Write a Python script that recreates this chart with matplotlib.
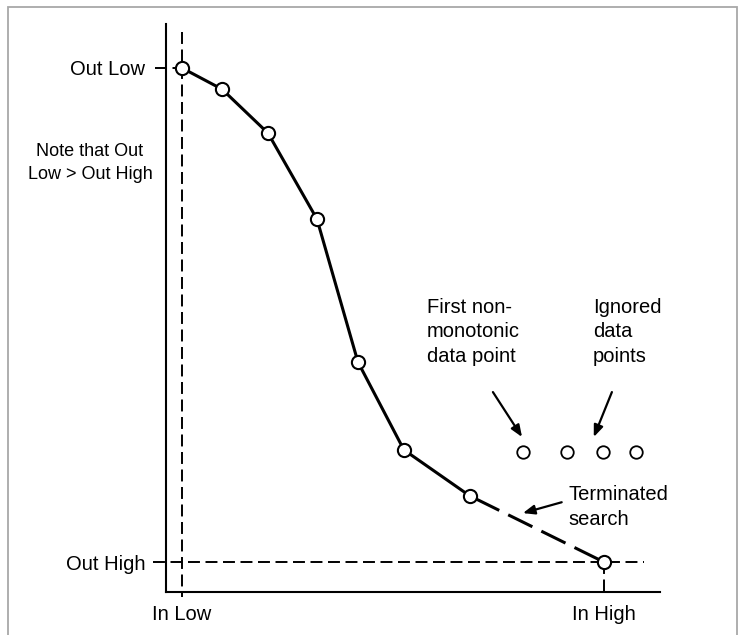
import matplotlib
matplotlib.use("Agg")
import matplotlib.pyplot as plt
from matplotlib.patches import Rectangle

plt.rcParams['font.family'] = ['Liberation Sans', 'DejaVu Sans']
plt.rcParams['lines.scale_dashes'] = False

# input / output scale: In Low = 0, In High = 100, Out High = 0, Out Low = 100
in_low, in_high = 0, 100
out_low, out_high = 100, 0

# points accepted by the search (monotonic part)
search_x = [0, 9.5, 20.4, 32.0, 41.7, 52.6, 68.2, 100]
search_y = [100, 95.7, 86.8, 69.4, 40.5, 22.7, 13.4, 0]

# points after the first non-monotonic one
ignored_x = [80.8, 91.2, 99.8, 107.6]
ignored_y = [22.3, 22.3, 22.3, 22.3]

x_ticks = [in_low, in_high]
x_labels = ["In Low", "In High"]
y_ticks = [out_high, out_low]
y_labels = ["Out High", "Out Low"]

fig = plt.figure(figsize=(7.39, 6.35), dpi=100)
ax = fig.add_axes([0.2246, 0.0677, 0.6685, 0.8945])
ax.set_xlim(-3.79, 113.3)
ax.set_ylim(-6.07, 108.9)

for side in ("top", "right"):
    ax.spines[side].set_visible(False)
for side in ("left", "bottom"):
    ax.spines[side].set_linewidth(1.5)

ax.set_xticks(x_ticks, x_labels)
ax.set_yticks(y_ticks, y_labels)
ax.tick_params(axis="both", length=0, labelsize=14.5, colors="black")
ax.tick_params(axis="y", pad=15)
ax.tick_params(axis="x", pad=9)

thin_dash = (0, (8.6, 4.0))
guide = dict(color="black", lw=1.4, ls=thin_dash, clip_on=False, zorder=2)
# vertical guide at In Low, running past the top and below the axis
ax.plot([in_low, in_low], [107.2, -7.0], **guide)
# horizontal guides at Out Low / Out High, starting left of the axis
ax.plot([-6.4, in_low], [out_low, out_low], **guide)
ax.plot([-6.9, 109.6], [out_high, out_high], **guide)
# drop line from the last point to the axis
ax.plot([in_high, in_high], [out_high, -7.0], **guide)

# solid curve through accepted points, dashed to In High after termination
ax.plot(search_x[:7], search_y[:7], color="black", lw=2.2, zorder=3,
        solid_capstyle="round")
ax.plot(search_x[6:], search_y[6:], color="black", lw=2.2, zorder=3,
        ls=(22.3, (19.4, 7.2)))
ax.plot(search_x, search_y, ls="none", marker="o", ms=9.5, mew=1.5,
        mfc="white", mec="black", zorder=4, clip_on=False)

ax.plot(ignored_x, ignored_y, ls="none", marker="o", ms=9.0, mew=1.3,
        mfc="white", mec="black", zorder=4, clip_on=False)

txt = dict(fontsize=14.5, color="black", linespacing=1.38, va="top", ha="left")
ax.text(58.1, 53.5, "First non-\nmonotonic\ndata point", **txt)
ax.text(97.4, 53.5, "Ignored\ndata\npoints", **txt)
ax.text(91.5, 15.6, "Terminated\nsearch", **txt)
ax.text(-21.8, 80.7, "Note that Out\nLow > Out High", fontsize=13,
        ha="center", va="center", linespacing=1.45, color="black")

arrow = dict(arrowstyle="-|>,head_length=0.7,head_width=0.28", lw=1.6,
             color="black", shrinkA=0, shrinkB=0)
ax.annotate("", xy=(80.6, 25.3), xytext=(73.7, 34.4), arrowprops=arrow)
ax.annotate("", xy=(97.6, 25.3), xytext=(101.9, 34.4), arrowprops=arrow)
ax.annotate("", xy=(80.8, 9.9), xytext=(90.0, 12.1), arrowprops=arrow)

# light grey frame around the figure
fig.patches.append(Rectangle((8 / 739, -0.02), 729 / 739, 1.02 - 7 / 635,
                             transform=fig.transFigure, fill=False,
                             edgecolor="#a8a8a8", lw=1.3))

fig.savefig("out.png", dpi=100)
